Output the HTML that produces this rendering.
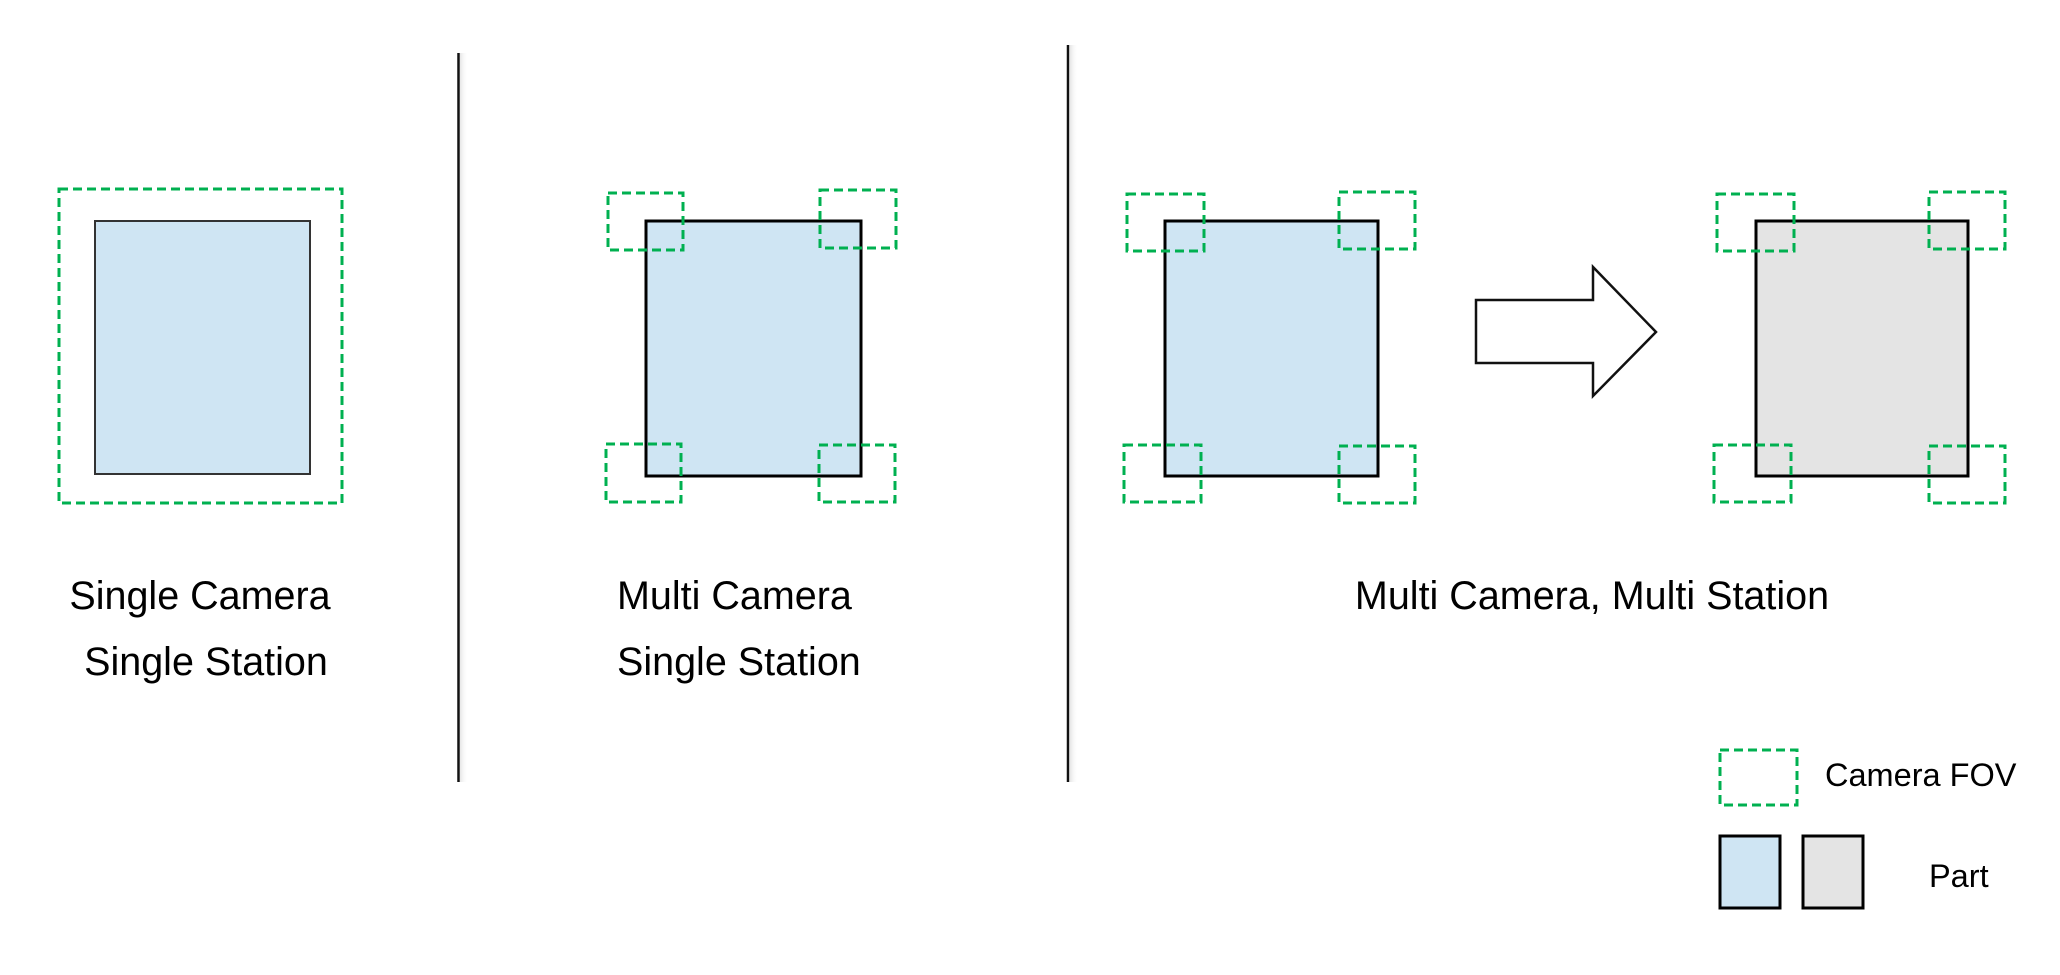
<!DOCTYPE html>
<html><head><meta charset="utf-8"><style>
html,body{margin:0;padding:0;background:#fff;}
svg{display:block;}
text{font-family:"Liberation Sans",Arial,sans-serif;fill:#000;}
</style></head><body>
<svg width="2060" height="975" viewBox="0 0 2060 975" xmlns="http://www.w3.org/2000/svg">
<defs>
<linearGradient id="sh" x1="0" x2="1" y1="0" y2="0"><stop offset="0" stop-color="#e6e6e6"/><stop offset="1" stop-color="#fff" stop-opacity="0"/></linearGradient>
</defs>
<rect x="460" y="53" width="8" height="729" fill="url(#sh)"/>
<line x1="458.5" y1="53" x2="458.5" y2="782" stroke="#111" stroke-width="2.5"/>
<rect x="1070" y="45" width="8" height="737" fill="url(#sh)"/>
<line x1="1068" y1="45" x2="1068" y2="782" stroke="#111" stroke-width="2.5"/>

<g stroke="#00b050" stroke-width="3" stroke-dasharray="9,5" fill="none">
<rect x="59" y="189" width="283" height="314"/>
</g>
<rect x="95" y="221" width="215" height="253" fill="#cfe5f3" stroke="#333" stroke-width="2"/>

<rect x="646" y="221" width="215" height="255" fill="#cfe5f3" stroke="#000" stroke-width="3"/>
<g stroke="#00b050" stroke-width="3" stroke-dasharray="9,5" fill="none">
<rect x="608" y="193" width="75" height="57"/>
<rect x="820" y="190" width="76" height="58"/>
<rect x="606" y="444" width="75" height="58"/>
<rect x="819" y="445" width="76" height="57"/>
</g>

<rect x="1165" y="221" width="213" height="255" fill="#cfe5f3" stroke="#000" stroke-width="3"/>
<g stroke="#00b050" stroke-width="3" stroke-dasharray="9,5" fill="none">
<rect x="1127" y="194" width="77" height="57"/>
<rect x="1339" y="192" width="76" height="57"/>
<rect x="1124" y="445" width="77" height="57"/>
<rect x="1339" y="446" width="76" height="57"/>
</g>

<polygon points="1476,300 1593,300 1593,267 1656,332 1593,396 1593,363 1476,363" fill="#fff" stroke="#111" stroke-width="2.5"/>

<rect x="1756" y="221" width="212" height="255" fill="#e4e4e4" stroke="#000" stroke-width="3"/>
<g stroke="#00b050" stroke-width="3" stroke-dasharray="9,5" fill="none">
<rect x="1717" y="194" width="77" height="57"/>
<rect x="1929" y="192" width="76" height="57"/>
<rect x="1714" y="445" width="77" height="57"/>
<rect x="1929" y="446" width="76" height="57"/>
</g>

<text x="200" y="609" font-size="39.5" text-anchor="middle">Single Camera</text>
<text x="206" y="675" font-size="39.5" text-anchor="middle">Single Station</text>
<text x="617" y="609" font-size="39.5">Multi Camera</text>
<text x="617" y="675" font-size="39.5">Single Station</text>
<text x="1592" y="609" font-size="39.5" text-anchor="middle">Multi Camera, Multi Station</text>

<rect x="1720" y="750" width="77" height="55" fill="none" stroke="#00b050" stroke-width="3" stroke-dasharray="9,5"/>
<text x="1825" y="786" font-size="32.5">Camera FOV</text>
<rect x="1720" y="836" width="60" height="72" fill="#cfe5f3" stroke="#000" stroke-width="3"/>
<rect x="1803" y="836" width="60" height="72" fill="#e4e4e4" stroke="#000" stroke-width="3"/>
<text x="1929" y="887" font-size="32.5">Part</text>
</svg>
</body></html>
